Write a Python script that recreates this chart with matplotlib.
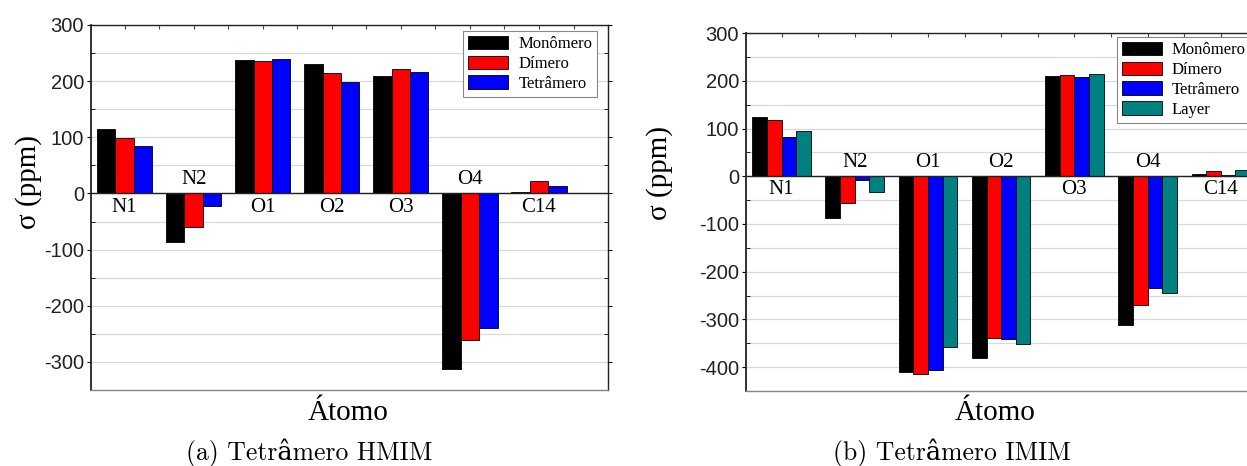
import numpy as np
import matplotlib
matplotlib.use('Agg')
from matplotlib import pyplot as plt
from matplotlib.ticker import MultipleLocator

plt.rcParams['axes.unicode_minus'] = False

# dados
atomos = ['N1', 'N2', 'O1', 'O2', 'O3', 'O4', 'C14']
nomes = ['Monômero', 'Dímero', 'Tetrâmero', 'Layer']
cores = ['#000000', '#ff0000', '#0000ff', '#008080']

hmim_monomero = [115, -87, 237, 231, 210, -312, 3]
hmim_dimero = [98, -60, 235, 215, 221, -261, 22]
hmim_tetramero = [85, -23, 240, 198, 217, -240, 13]

imim_monomero = [125, -88, -411, -381, 210, -312, 4]
imim_dimero = [117, -57, -415, -338, 212, -269, 11]
imim_tetramero = [83, -7, -406, -340, 208, -234, 3]
imim_layer = [94, -33, -358, -352, 214, -244, 14]

serif = ['Liberation Serif', 'DejaVu Serif']
sans = ['Liberation Sans', 'DejaVu Sans']
cm = ['cmr10', 'DejaVu Serif']


def painel(ax, series, ylim, leg_anchor):
    n = len(series)
    x = np.arange(len(atomos))
    w = 0.8 / n
    for i, s in enumerate(series):
        ax.bar(x - 0.4 + w * (i + 0.5), s, w, color=cores[i], edgecolor='black',
               linewidth=0.6, label=nomes[i], zorder=3)
    ax.axhline(0, color='#222222', linewidth=1.0, zorder=4)

    # rotulo de cada atomo no lado oposto das barras
    for i, a in enumerate(atomos):
        if series[0][i] < 0:
            ax.annotate(a, (x[i], 0), xytext=(0, 3), textcoords='offset points',
                        ha='center', va='bottom', fontsize=15, family=serif, zorder=5)
        else:
            ax.annotate(a, (x[i], 0), xytext=(0, -3), textcoords='offset points',
                        ha='center', va='top', fontsize=15, family=serif, zorder=5)

    ax.set_xlim(-0.486, 7.0)
    ax.set_ylim(*ylim)
    ax.yaxis.set_major_locator(MultipleLocator(100))
    ax.yaxis.set_minor_locator(MultipleLocator(50))
    ax.xaxis.set_major_locator(MultipleLocator(0.5))
    ax.grid(True, which='both', axis='y', color='#d9d9d9', linewidth=0.9, zorder=0)
    ax.tick_params(axis='x', which='both', bottom=False, labelbottom=False,
                   top=True, direction='in', length=3, color='#444444')
    ax.tick_params(axis='y', which='major', direction='out', length=3, pad=2,
                   labelsize=14.5, labelcolor='#222222')
    ax.tick_params(axis='y', which='minor', direction='in', length=3)
    ax.tick_params(axis='y', which='both', right=True)
    for lab in ax.get_yticklabels():
        lab.set_family(sans)
    for sp in ax.spines.values():
        sp.set_linewidth(1.0)
        sp.set_color('#222222')
    ax.spines['left'].set_linewidth(1.3)
    ax.spines['bottom'].set_color('#888888')

    leg = ax.legend(loc='upper left', bbox_to_anchor=leg_anchor, borderaxespad=0,
                    prop={'family': serif, 'size': 12}, fancybox=False,
                    edgecolor='#888888', framealpha=1, handlelength=2.4,
                    handleheight=0.85, handletextpad=0.6, labelspacing=0.2,
                    borderpad=0.3)
    leg.get_frame().set_linewidth(0.8)
    leg.set_zorder(6)


fig = plt.figure(figsize=(12.47, 4.66), dpi=100)

ax1 = fig.add_axes([0.0730, 0.1631, 0.4146, 0.7833])
painel(ax1, [hmim_monomero, hmim_dimero, hmim_tetramero], (-350, 300), (0.720, 0.984))

ax2 = fig.add_axes([0.5982, 0.1609, 0.4395, 0.7682])
painel(ax2, [imim_monomero, imim_dimero, imim_tetramero, imim_layer], (-450, 300), (0.677, 0.989))

fig.text(0.0225, 0.609, 'σ (ppm)', rotation=90, ha='center', va='center',
         fontsize=21, family=serif)
fig.text(0.529, 0.629, 'σ (ppm)', rotation=90, ha='center', va='center',
         fontsize=21, family=serif)
fig.text(348 / 1247, 0.1137, 'Átomo', ha='center', va='center', fontsize=21, family=serif)
fig.text(995 / 1247, 0.1137, 'Átomo', ha='center', va='center', fontsize=21, family=serif)
fig.text(309 / 1247, 0.028, '(a) Tetrâmero HMIM', ha='center', va='center',
         fontsize=18.5, family=cm)
fig.text(952 / 1247, 0.028, '(b) Tetrâmero IMIM', ha='center', va='center',
         fontsize=18.5, family=cm)

fig.savefig('out.png', dpi=100)
